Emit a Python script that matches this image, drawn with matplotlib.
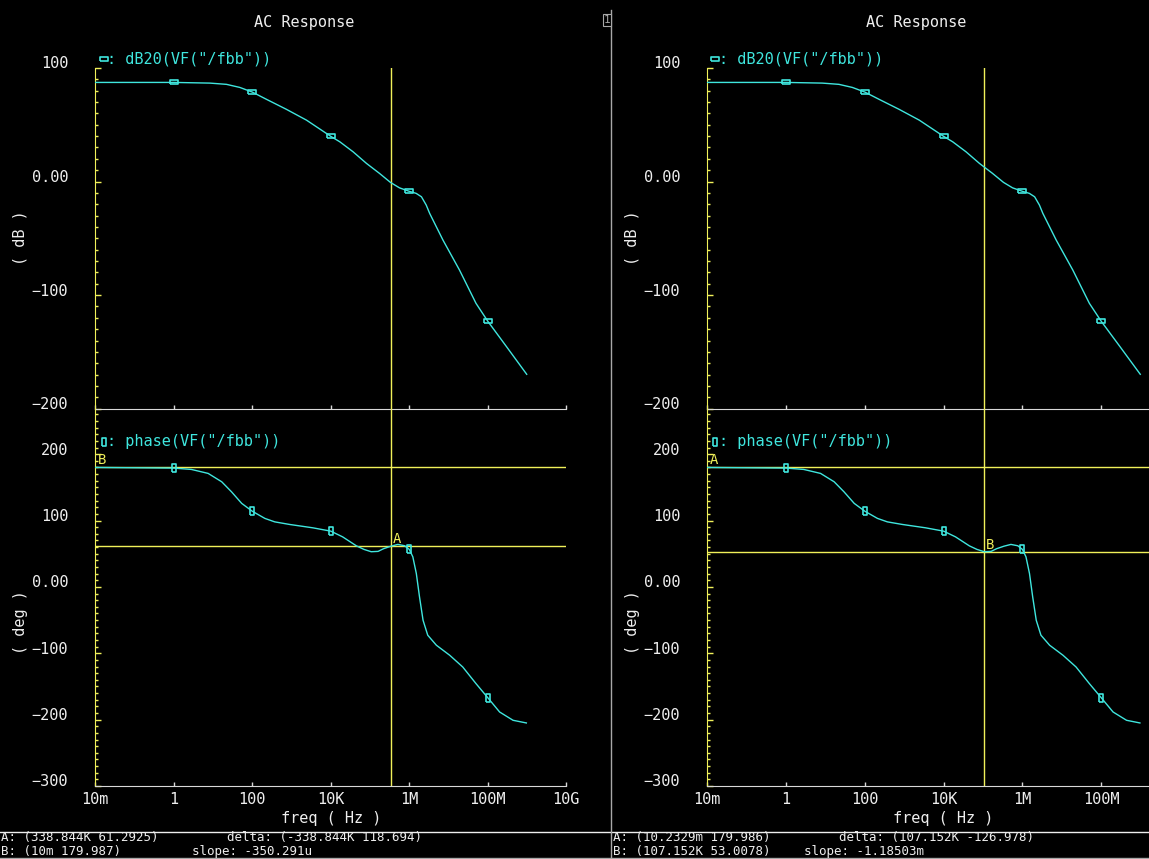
import numpy as np
import matplotlib
matplotlib.use("Agg")
import matplotlib.pyplot as plt
from matplotlib.transforms import ScaledTranslation
from matplotlib.lines import Line2D
from matplotlib.ticker import FixedLocator, NullLocator

# ---- data ----
mag_freq = [1e-2, 1, 8.3, 22, 32, 48, 100, 230, 740, 2.4e3, 1e4, 1.7e4, 3.7e4, 8.1e4,
            1.74e5, 3.3e5, 5.6e5, 1e6, 1.5e6, 2.04e6, 2.7e6, 3.3e6, 7.2e6, 1.9e7,
            5e7, 1e8, 3e8, 9.8e8]
mag_db = [87.3, 87.3, 86.7, 85.6, 84.3, 82.9, 78.8, 72.4, 63.6, 54.1, 39.8, 35.0, 26.2,
          16.0, 7.2, -0.7, -5.5, -8.6, -10.4, -13.4, -20.7, -28.0, -51.5, -77.9,
          -107.2, -123.0, -145.4, -169.7]

phase_freq = [1e-2, 1, 2.8, 7.5, 16.6, 29.5, 53.7, 100, 209, 372, 890, 3.5e3, 1e4, 2e4,
              4.5e4, 7e4, 1.07e5, 1.6e5, 2.2e5, 3.39e5, 5.1e5, 7.6e5, 1e6, 1.23e6,
              1.51e6, 1.82e6, 2.24e6, 2.95e6, 4.9e6, 1.07e7, 2.3e7, 5e7, 1e8, 2e8,
              4.4e8, 9.6e8]
phase_deg = [180.0, 179.0, 177.0, 171.0, 158.4, 143.3, 125.8, 114.0, 103.2, 98.0, 94.1,
             89.0, 84.0, 75.4, 61.8, 56.5, 53.0, 53.5, 57.5, 61.3, 64.0, 62.0, 56.5,
             45.3, 20.2, -15.0, -50.2, -72.8, -87.9, -103.0, -120.7, -145.7, -167.0,
             -188.5, -201.0, -205.0]

marker_freq = [1, 100, 1e4, 1e6, 1e8]

freq_ticks = [1e-2, 1, 1e2, 1e4, 1e6, 1e8, 1e10]
freq_labels = ["10m", "1", "100", "10K", "1M", "100M", "10G"]
mag_ticks = [-200, -100, 0, 100]
mag_labels = ["\u2212200", "\u2212100", "0.00", "100"]
phase_ticks = [-300, -200, -100, 0, 100, 200]
phase_labels = ["\u2212300", "\u2212200", "\u2212100", "0.00", "100", "200"]

# cursors: (A freq, A value), (B freq, B value)
left_cursor_a = (338.844e3, 61.2925)
left_cursor_b = (10e-3, 179.987)
right_cursor_a = (10.2329e-3, 179.986)
right_cursor_b = (107.152e3, 53.0078)

left_status = ["A: (338.844K 61.2925)", "delta: (-338.844K 118.694)",
               "B: (10m 179.987)", "slope: -350.291u"]
right_status = ["A: (10.2329m 179.986)", "delta: (107.152K -126.978)",
                "B: (107.152K 53.0078)", "slope: -1.18503m"]

CYAN = "#3fe6de"
YELLOW = "#f0f05a"
WHITE = "#eeeeee"
GREY = "#a8a8a8"

plt.rcParams["font.family"] = ["DejaVu Sans Mono", "DejaVu Sans"]

W, H = 1149, 859
fig = plt.figure(figsize=(W / 100, H / 100), dpi=100, facecolor="black")


def fx(px):
    return px / W


def fy(py):
    return 1 - py / H


def make_axes(x0, x1, y0, y1):
    return fig.add_axes([x0 / W, 1 - y1 / H, (x1 - x0) / W, (y1 - y0) / H])


hrect = [(-1, -0.5), (1, -0.5), (1, 0.5), (-1, 0.5), (-1, -0.5)]
vrect = [(-0.4, -1), (0.4, -1), (0.4, 1), (-0.4, 1), (-0.4, -1)]


def style_axes(ax, ymin, ymax, ticks, labels, xlabels):
    ax.set_facecolor("none")
    ax.set_xscale("log")
    ax.set_xlim(1e-2, 1e10)
    ax.set_ylim(ymin, ymax)
    for s in ("top", "right"):
        ax.spines[s].set_visible(False)
    ax.spines["left"].set_color(YELLOW)
    ax.spines["bottom"].set_color("#d8d8d8")
    ax.xaxis.set_major_locator(FixedLocator(freq_ticks))
    ax.xaxis.set_minor_locator(NullLocator())
    if xlabels:
        ax.set_xticklabels(xlabels)
    ax.tick_params(axis="x", direction="in", length=3, width=1, colors=WHITE,
                   color="#d8d8d8", labelsize=11, pad=4, labelbottom=bool(xlabels))
    ax.yaxis.set_major_locator(FixedLocator(ticks))
    ax.yaxis.set_minor_locator(FixedLocator(np.arange(ymin, ymax + 1, 10)))
    ax.tick_params(axis="y", which="major", direction="in", length=4, width=1,
                   color=YELLOW, labelleft=False)
    ax.tick_params(axis="y", which="minor", direction="in", length=2.2, width=1,
                   color=YELLOW)
    off = ScaledTranslation(-27 / 100, 4 / 100, fig.dpi_scale_trans)
    for v, lab in zip(ticks, labels):
        ax.text(0, v, lab, transform=ax.get_yaxis_transform() + off,
                ha="right", va="center", color=WHITE, fontsize=11)


def draw_panel(ox, ax_right, cur_a, cur_b, status, xlabels):
    ax_m = make_axes(ox + 95.3, ax_right, 68, 408.7)
    ax_p = make_axes(ox + 95.3, ax_right, 408.7, 786)
    style_axes(ax_m, -200, 100, mag_ticks, mag_labels, None)
    style_axes(ax_p, -300, 268.5, phase_ticks, phase_labels, xlabels)
    ax_p.set_xlabel("freq ( Hz )", color=WHITE, fontsize=11, labelpad=3)

    m_idx = [i for i, f in enumerate(mag_freq) if f in marker_freq]
    p_idx = [i for i, f in enumerate(phase_freq) if f in marker_freq]
    ax_m.plot(mag_freq, mag_db, color=CYAN, lw=1.0, zorder=3,
              marker=hrect, markevery=m_idx, ms=6, mfc="none", mec=CYAN, mew=1.2)
    ax_p.plot(phase_freq, phase_deg, color=CYAN, lw=1.0, zorder=3,
              marker=vrect, markevery=p_idx, ms=6, mfc="none", mec=CYAN, mew=1.2)

    # cursors
    vx = cur_a[0] if cur_a[0] > 1 else cur_b[0]
    for ax in (ax_m, ax_p):
        ax.axvline(vx, color=YELLOW, lw=1.0, zorder=2)
    for name, (cf, cv) in (("A", cur_a), ("B", cur_b)):
        ax_p.axhline(cv, color=YELLOW, lw=1.0, zorder=2)
        ax_p.annotate(name, (cf, cv), xytext=(1.5, 0), textcoords="offset points",
                      ha="left", va="bottom", color=YELLOW, fontsize=10,
                      annotation_clip=False)

    # trace names
    for (iy, mk, txt) in ((58.5, hrect, ': dB20(VF("/fbb"))'),
                          (441.5, vrect, ': phase(VF("/fbb"))')):
        fig.add_artist(Line2D([fx(ox + 103.5)], [fy(iy)], marker=mk, ms=5.5,
                              mfc="none", mec=CYAN, mew=1.2, ls="none",
                              transform=fig.transFigure))
        fig.text(fx(ox + 107), fy(iy), txt, ha="left", va="center",
                 color=CYAN, fontsize=11)

    fig.text(fx(ox + 304), fy(22), "AC Response", ha="center", va="center",
             color=WHITE, fontsize=11)
    fig.text(fx(ox + 20), fy(238), "( dB )", rotation=90, ha="center",
             va="center", color=WHITE, fontsize=11)
    fig.text(fx(ox + 20), fy(622), "( deg )", rotation=90, ha="center",
             va="center", color=WHITE, fontsize=11)

    # status bar
    fig.text(fx(ox + 1), fy(838), status[0], ha="left", va="center", color=WHITE, fontsize=9)
    fig.text(fx(ox + 227), fy(838), status[1], ha="left", va="center", color=WHITE, fontsize=9)
    fig.text(fx(ox + 1), fy(851.5), status[2], ha="left", va="center", color=WHITE, fontsize=9)
    fig.text(fx(ox + 192), fy(851.5), status[3], ha="left", va="center", color=WHITE, fontsize=9)


draw_panel(0, 566.3, left_cursor_a, left_cursor_b, left_status, freq_labels)
# right window is cut by the screen edge: its 10G label lies off screen
draw_panel(612, 1180, right_cursor_a, right_cursor_b, right_status,
           freq_labels[:-1] + [""])

# window frame lines
fig.add_artist(Line2D([0, 1], [fy(831.5), fy(831.5)], color=WHITE, lw=1,
                      transform=fig.transFigure))
fig.add_artist(Line2D([0, 1], [fy(857.5), fy(857.5)], color=GREY, lw=1,
                      transform=fig.transFigure))
fig.add_artist(Line2D([fx(611), fx(611)], [fy(10), 0], color=GREY, lw=1,
                      transform=fig.transFigure))
fig.text(fx(607), fy(20), "1", ha="center", va="center", color=GREY, fontsize=8,
         bbox=dict(boxstyle="square,pad=0.1", fc="black", ec=GREY, lw=0.8))

fig.savefig("out.png", dpi=100, facecolor="black")
